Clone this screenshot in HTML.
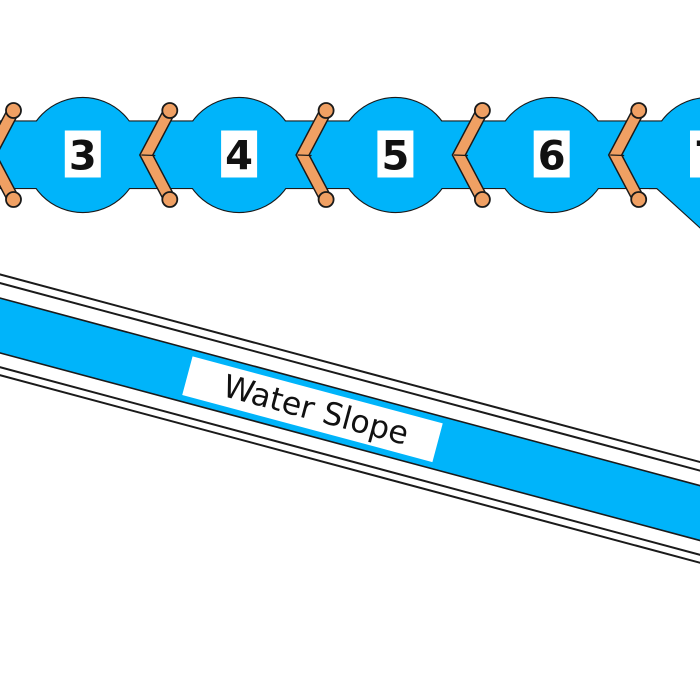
<!DOCTYPE html>
<html>
<head>
<meta charset="utf-8">
<style>
  html, body { margin: 0; padding: 0; background: #ffffff; }
  body { width: 700px; height: 700px; overflow: hidden; }
  svg { display: block; }
</style>
</head>
<body>
<svg width="700" height="700" viewBox="0 0 700 700" xmlns="http://www.w3.org/2000/svg">
  <rect x="0" y="0" width="700" height="700" fill="#ffffff"/>

  <!-- Chain band + circles: outline layer -->
  <g fill="#00B4FA" stroke="#1a1a1a" stroke-width="2.2">
    <rect x="-20" y="121.5" width="800" height="66.5"/>
    <circle cx="82.8" cy="155" r="57"/>
    <circle cx="239.1" cy="155" r="57"/>
    <circle cx="395.4" cy="155" r="57"/>
    <circle cx="551.7" cy="155" r="57"/>
    <circle cx="708" cy="155" r="57"/>
    <polygon points="650,150 650,188 657,188 701,228 780,228 780,150"/>
  </g>
  <!-- fill layer to hide inner strokes -->
  <g fill="#00B4FA" stroke="none">
    <rect x="-20" y="121.5" width="800" height="66.5"/>
    <circle cx="82.8" cy="155" r="57"/>
    <circle cx="239.1" cy="155" r="57"/>
    <circle cx="395.4" cy="155" r="57"/>
    <circle cx="551.7" cy="155" r="57"/>
    <circle cx="708" cy="155" r="57"/>
    <polygon points="650,150 650,188 657,188 701,228 780,228 780,150"/>
  </g>

  <!-- number boxes -->
  <g fill="#ffffff">
    <rect x="64.8" y="130.5" width="36" height="47"/>
    <rect x="221.1" y="130.5" width="36" height="47"/>
    <rect x="377.4" y="130.5" width="36" height="47"/>
    <rect x="533.7" y="130.5" width="36" height="47"/>
    <rect x="690" y="130.5" width="36" height="47"/>
  </g>
  <g font-family="'DejaVu Sans', 'Liberation Sans', sans-serif" font-weight="bold" font-size="40" fill="#111" text-anchor="middle">
    <text x="82.8" y="169.5">3</text>
    <text x="239.1" y="169.5">4</text>
    <text x="395.4" y="169.5">5</text>
    <text x="551.7" y="169.5">6</text>
    <text x="708" y="169.5">7</text>
  </g>

  <!-- chevron connectors -->
  <g>
    <g stroke-linejoin="miter" stroke-linecap="round" fill="none">
      <path d="M13.5,110.5 L-10,155 L13.5,199.5" stroke="#1a1a1a" stroke-width="13"/>
      <path d="M13.5,110.5 L-10,155 L13.5,199.5" stroke="#F0A063" stroke-width="10"/>
      <path d="M169.8,110.5 L146.3,155 L169.8,199.5" stroke="#1a1a1a" stroke-width="13"/>
      <path d="M169.8,110.5 L146.3,155 L169.8,199.5" stroke="#F0A063" stroke-width="10"/>
      <path d="M326.1,110.5 L302.6,155 L326.1,199.5" stroke="#1a1a1a" stroke-width="13"/>
      <path d="M326.1,110.5 L302.6,155 L326.1,199.5" stroke="#F0A063" stroke-width="10"/>
      <path d="M482.4,110.5 L458.9,155 L482.4,199.5" stroke="#1a1a1a" stroke-width="13"/>
      <path d="M482.4,110.5 L458.9,155 L482.4,199.5" stroke="#F0A063" stroke-width="10"/>
      <path d="M638.7,110.5 L615.2,155 L638.7,199.5" stroke="#1a1a1a" stroke-width="13"/>
      <path d="M638.7,110.5 L615.2,155 L638.7,199.5" stroke="#F0A063" stroke-width="10"/>
    </g>
    <g stroke="#1a1a1a" stroke-width="1.3">
      <line x1="-15" y1="155" x2="-1" y2="155.5"/>
      <line x1="141.3" y1="155" x2="155.3" y2="155.5"/>
      <line x1="297.6" y1="155" x2="311.6" y2="155.5"/>
      <line x1="453.9" y1="155" x2="467.9" y2="155.5"/>
      <line x1="610.2" y1="155" x2="624.2" y2="155.5"/>
    </g>
    <g fill="#F0A063" stroke="#1a1a1a" stroke-width="1.8">
      <circle cx="13.5" cy="110.5" r="7.5"/>
      <circle cx="13.5" cy="199.5" r="7.5"/>
      <circle cx="169.8" cy="110.5" r="7.5"/>
      <circle cx="169.8" cy="199.5" r="7.5"/>
      <circle cx="326.1" cy="110.5" r="7.5"/>
      <circle cx="326.1" cy="199.5" r="7.5"/>
      <circle cx="482.4" cy="110.5" r="7.5"/>
      <circle cx="482.4" cy="199.5" r="7.5"/>
      <circle cx="638.7" cy="110.5" r="7.5"/>
      <circle cx="638.7" cy="199.5" r="7.5"/>
    </g>
  </g>

  <!-- Water slope -->
  <g transform="translate(0 325.5) rotate(15)">
    <rect x="-200" y="-26.5" width="1200" height="53" fill="#00B4FA" stroke="#1a1a1a" stroke-width="1.6"/>
    <rect x="194" y="-20" width="259" height="40" fill="#ffffff"/>
    <g stroke="#1a1a1a" stroke-width="2">
      <line x1="-200" y1="-49.3" x2="1000" y2="-49.3"/>
      <line x1="-200" y1="-41" x2="1000" y2="-41"/>
      <line x1="-200" y1="40.3" x2="1000" y2="40.3"/>
      <line x1="-200" y1="48" x2="1000" y2="48"/>
    </g>
    <text x="327" y="10.5" font-family="'DejaVu Sans', 'Liberation Sans', sans-serif" font-size="31.5" fill="#111" text-anchor="middle">Water Slope</text>
  </g>
</svg>
</body>
</html>
